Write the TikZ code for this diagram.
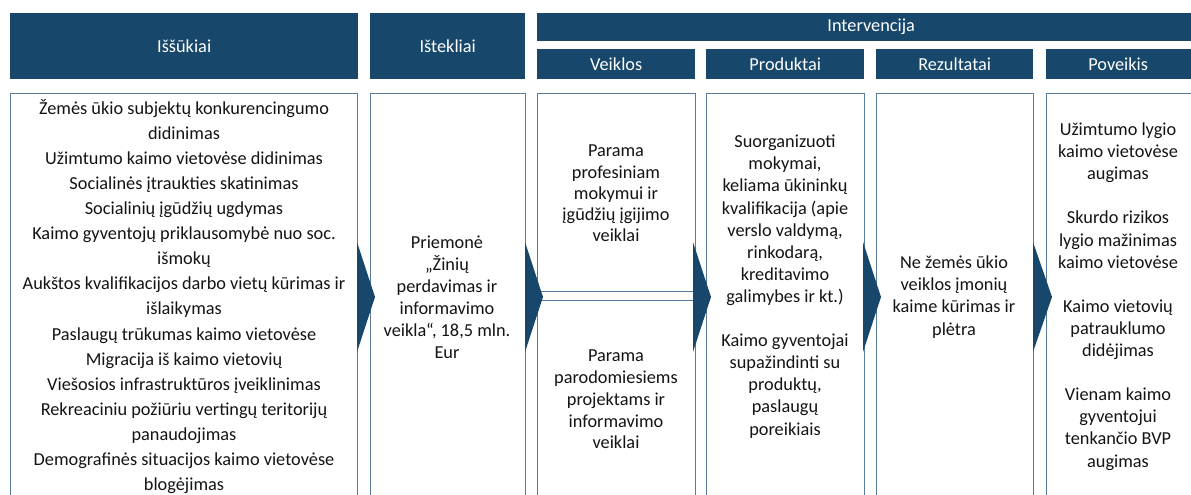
\documentclass[tikz,border=0pt]{standalone}
\usepackage{fontspec}
\setmainfont{Carlito}
\definecolor{hdrblue}{RGB}{23,71,106}
\definecolor{bordblue}{RGB}{88,122,156}
\definecolor{txtgray}{RGB}{20,20,20}
\begin{document}
\begin{tikzpicture}[x=1pt,y=-1pt,
  hdrbox/.style={fill=hdrblue, draw=none, text=white, anchor=north west, inner sep=0pt,
    font=\fontsize{18.3}{20}\selectfont},
  cbox/.style={draw=bordblue, line width=0.9pt, fill=white, anchor=north west, inner sep=0pt},
  ctext/.style={align=center, text=txtgray, inner sep=0pt, font=\fontsize{18.3}{22.1}\selectfont},
  chev/.style={fill=hdrblue, draw=none}]
\useasboundingbox (0,0) rectangle (1191,495);
\clip (0,0) rectangle (1191,495);

% headers
\node[hdrbox, minimum width=348, minimum height=66] (hIss) at (10,13) {Iššūkiai};
\node[hdrbox, minimum width=155, minimum height=66] (hIst) at (370,13) {Ištekliai};
\node[hdrbox, minimum width=660, minimum height=28] (hInt) at (537,13) {\hspace*{8pt}Intervencija};
\node[hdrbox, minimum width=158, minimum height=30] (hVei) at (537,49) {Veiklos};
\node[hdrbox, minimum width=158, minimum height=30] (hPro) at (706,49) {Produktai};
\node[hdrbox, minimum width=157, minimum height=30] (hRez) at (876,49) {Rezultatai};
\node[hdrbox, minimum width=150, minimum height=30] (hPov) at (1046,49) {\hspace*{-6pt}Poveikis};

% content boxes
\node[cbox, minimum width=347, minimum height=410] (cIss) at (10,93) {};
\node[cbox, minimum width=155, minimum height=410] (cIst) at (370,93) {};
\node[cbox, minimum width=158, minimum height=198] (cVeiA) at (537,93) {};
\node[cbox, minimum width=158, minimum height=205] (cVeiB) at (537,300) {};
\node[cbox, minimum width=158, minimum height=410] (cPro) at (706,93) {};
\node[cbox, minimum width=157, minimum height=410] (cRez) at (876,93) {};
\node[cbox, minimum width=160, minimum height=410] (cPov) at (1046,93) {};

% texts
\node[ctext, font=\fontsize{18.3}{25.1}\selectfont] (tIss) at (184,296.5) {%
Žemės ūkio subjektų konkurencingumo\\ didinimas\\
Užimtumo kaimo vietovėse didinimas\\
Socialinės įtraukties skatinimas\\
Socialinių įgūdžių ugdymas\\
Kaimo gyventojų priklausomybė nuo soc.\\ išmokų\\
Aukštos kvalifikacijos darbo vietų kūrimas ir\\ išlaikymas\\
Paslaugų trūkumas kaimo vietovėse\\
Migracija iš kaimo vietovių\\
Viešosios infrastruktūros įveiklinimas\\
Rekreaciniu požiūriu vertingų teritorijų\\ panaudojimas\\
Demografinės situacijos kaimo vietovėse\\ blogėjimas};

\node[ctext] (tIst) at (447,297) {Priemonė\\ „Žinių\\ perdavimas ir\\ informavimo\\ veikla“, 18,5 mln.\\ Eur};

\node[ctext, font=\fontsize{18.3}{21.3}\selectfont] (tVeiA) at (616,193.5) {Parama\\ profesiniam\\ mokymui ir\\ įgūdžių įgijimo\\ veiklai};
\node[ctext, font=\fontsize{18.3}{21.8}\selectfont] (tVeiB) at (616,399.5) {Parama\\ parodomiesiems\\ projektams ir\\ informavimo\\ veiklai};

\node[ctext] (tPro) at (785,286.5) {Suorganizuoti\\ mokymai,\\ keliama ūkininkų\\ kvalifikacija (apie\\ verslo valdymą,\\ rinkodarą,\\ kreditavimo\\ galimybes ir kt.)\\[22.1pt]
Kaimo gyventojai\\ supažindinti su\\ produktų,\\ paslaugų\\ poreikiais};

\node[ctext] (tRez) at (954,297) {Ne žemės ūkio\\ veiklos įmonių\\ kaime kūrimas ir\\ plėtra};

\node[ctext] (tPov) at (1118,296.5) {Užimtumo lygio\\ kaimo vietovėse\\ augimas\\[22.1pt]
Skurdo rizikos\\ lygio mažinimas\\ kaimo vietovėse\\[22.1pt]
Kaimo vietovių\\ patrauklumo\\ didėjimas\\[22.1pt]
Vienam kaimo\\ gyventojui\\ tenkančio BVP\\ augimas};

% chevrons
\fill[chev] (357,242) -- (375,297) -- (357,352) -- cycle;
\fill[chev] (525,242) -- (543,297) -- (525,352) -- cycle;
\fill[chev] (693,242) -- (711,297) -- (693,352) -- cycle;
\fill[chev] (863,242) -- (881,297) -- (863,352) -- cycle;
\fill[chev] (1033,242) -- (1052,297) -- (1033,352) -- cycle;
\end{tikzpicture}
\end{document}
